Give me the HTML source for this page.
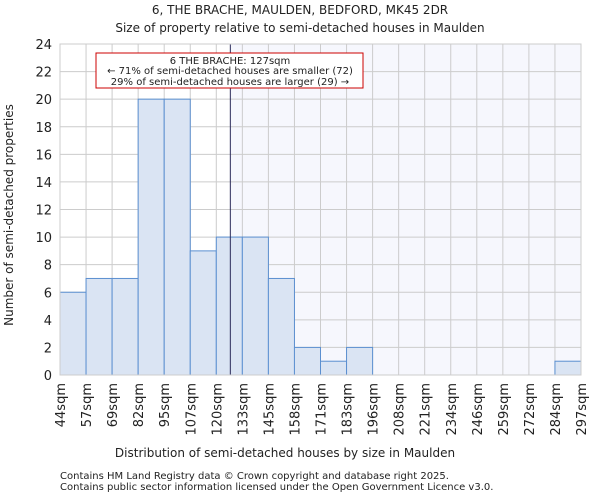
<!DOCTYPE html>
<html><head><meta charset="utf-8"><style>
body{margin:0;background:#fff;font-family:"DejaVu Sans","Liberation Sans",sans-serif;}
svg text{font-family:"DejaVu Sans","Liberation Sans",sans-serif;fill:#222;}
</style></head><body>
<svg id="chart" width="600" height="500" xmlns="http://www.w3.org/2000/svg">
<text x="300" y="14" font-size="12" text-anchor="middle">6, THE BRACHE, MAULDEN, BEDFORD, MK45 2DR</text>
<text x="300" y="32" font-size="12" text-anchor="middle">Size of property relative to semi-detached houses in Maulden</text>
<g id="plot"></g>
<text x="285" y="457" font-size="12" text-anchor="middle">Distribution of semi-detached houses by size in Maulden</text>
<text transform="translate(13,215) rotate(-90)" font-size="12" text-anchor="middle">Number of semi-detached properties</text>
<text x="60" y="479" font-size="10" fill="#444">Contains HM Land Registry data © Crown copyright and database right 2025.</text>
<text x="60" y="490" font-size="10" fill="#444">Contains public sector information licensed under the Open Government Licence v3.0.</text>
</svg>
<script>
const binLabels=["44sqm","57sqm","69sqm","82sqm","95sqm","107sqm","120sqm","133sqm","145sqm","158sqm","171sqm","183sqm","196sqm","208sqm","221sqm","234sqm","246sqm","259sqm","272sqm","284sqm","297sqm"];
const counts=[6,7,7,20,20,9,10,10,7,2,1,2,0,0,0,0,0,0,0,1];
const yTicks=[0,2,4,6,8,10,12,14,16,18,20,22,24];
const markerBin=6+7/13;
const L=60,R=581,T=44,B=375,YMAX=24;
const ns="http://www.w3.org/2000/svg";
const g=document.getElementById('plot');
const n=counts.length;
const x=i=>L+(R-L)*i/n;
const y=v=>B-(B-T)*v/YMAX;
function mk(t,a){const e=document.createElementNS(ns,t);for(const k in a)e.setAttribute(k,a[k]);g.appendChild(e);return e;}
const mx=x(markerBin);
let e=mk('rect',{x:mx,y:T,width:R-mx,height:B-T,fill:'#f6f7fd'});


for(let i=0;i<=n;i++){e=mk('line',{x1:x(i),x2:x(i),y1:T,y2:B,stroke:'#ccc','stroke-width':1});

}
yTicks.forEach(v=>{e=mk('line',{x1:L,x2:R,y1:y(v),y2:y(v),stroke:'#ccc','stroke-width':1});


e=mk('text',{x:L-8,y:y(v)+5,'font-size':13,'text-anchor':'end'});e.textContent=v;

});
counts.forEach((c,i)=>{if(c<=0)return;e=mk('rect',{x:x(i),y:y(c),width:x(i+1)-x(i),height:B-y(c),fill:'#dae4f3',stroke:'#5b8fd0','stroke-width':1});

});
binLabels.forEach((l,i)=>{e=mk('text',{transform:`translate(${x(i)+5},383) rotate(-90)`,'font-size':13,'text-anchor':'end'});e.textContent=l;

});
e=mk('line',{x1:mx,x2:mx,y1:T,y2:B,stroke:'#2a2a5a','stroke-width':1});


e=mk('rect',{x:96,y:53,width:267,height:35,fill:'#fff',stroke:'#c00','stroke-width':1});


[["6 THE BRACHE: 127sqm",64],["← 71% of semi-detached houses are smaller (72)",74],["29% of semi-detached houses are larger (29) →",85]].forEach(([t,yy])=>{e=mk('text',{x:230,y:yy,'font-size':10,'text-anchor':'middle'});e.textContent=t;

});
e=mk('rect',{x:L,y:T,width:R-L,height:B-T,fill:'none',stroke:'#ccc'});


</script>
</body></html>
